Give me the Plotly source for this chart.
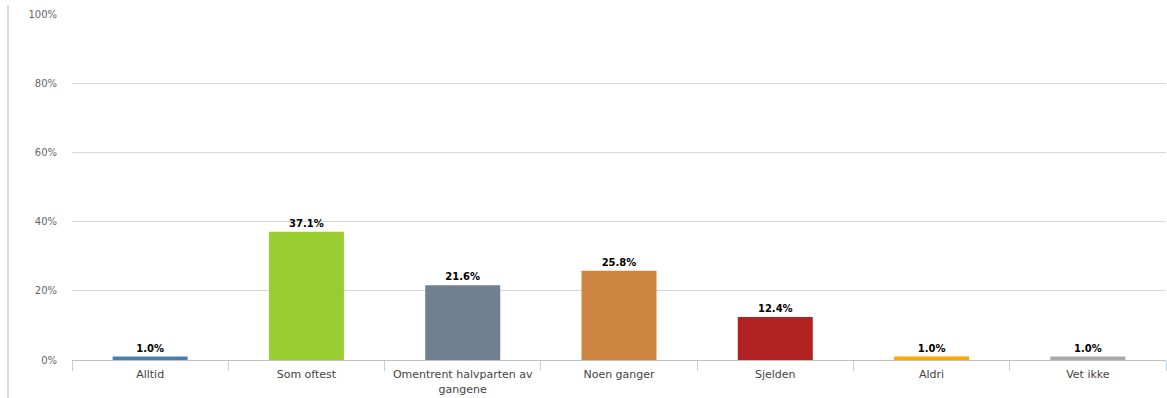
import plotly.graph_objects as go

categories = ["Alltid", "Som oftest", "Omentrent halvparten av<br>gangene", "Noen ganger", "Sjelden", "Aldri", "Vet ikke"]
values = [1.0, 37.1, 21.6, 25.8, 12.4, 1.0, 1.0]
colors = ["#4A7EB0", "#9ACD32", "#708090", "#CD853F", "#B22222", "#FFA500", "#A9A9A9"]
y_ticks = [0, 20, 40, 60, 80, 100]

fig = go.Figure(go.Bar(
    x=categories, y=values,
    marker=dict(color=colors, line=dict(width=0)),
    text=[f"{v:.1f}%" for v in values],
    textposition="outside",
    textfont=dict(family="DejaVu Sans", size=10, color="#000000", weight="bold"),
    cliponaxis=False,
    width=0.48,
))

fig.update_layout(
    width=1167, height=398,
    margin=dict(l=72, r=1, t=14, b=38),
    plot_bgcolor="white", paper_bgcolor="white",
    showlegend=False,
    font=dict(family="DejaVu Sans", color="#333333"),
    xaxis=dict(
        showgrid=False, showline=True, linecolor="#C0C0C0", linewidth=1,
        ticks="outside", tickson="boundaries", ticklen=10, tickcolor="#C0D0E0",
        tickfont=dict(size=11, color="#444444"),
        ticklabelstandoff=4,
    ),
    yaxis=dict(
        range=[0, 100], tickvals=y_ticks, ticktext=[f"{t}%" for t in y_ticks],
        showgrid=True, gridcolor="#D8D8D8", gridwidth=1,
        zeroline=False, showline=False,
        tickfont=dict(size=10, color="#666666"),
        ticklabelstandoff=14,
    ),
    shapes=[dict(type="line", xref="paper", yref="paper",
                 x0=(8 - 72) / 1094, x1=(8 - 72) / 1094, y0=-38 / 346, y1=1 + 9 / 346,
                 line=dict(color="#BBBBBB", width=1))],
)

fig.write_html("out.html")
